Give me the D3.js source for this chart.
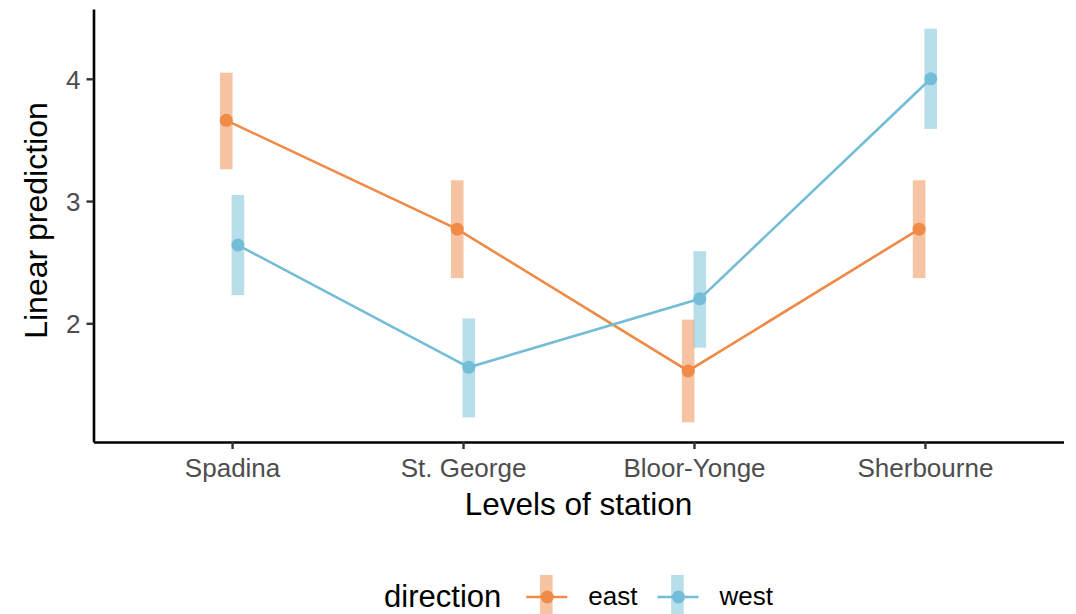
<!DOCTYPE html>
<html>
<head>
<meta charset="utf-8">
<script src="https://cdn.jsdelivr.net/npm/d3@7"></script>
<style>
  html, body { margin: 0; padding: 0; background: #ffffff; }
  svg { display: block; font-family: "Liberation Sans", Arial, Helvetica, sans-serif; }
</style>
</head>
<body>
<svg id="chart" width="1076" height="614"></svg>
<script>
// Estimated marginal means of the linear model, by station and direction
const stations = ["Spadina", "St. George", "Bloor-Yonge", "Sherbourne"];
const directions = ["east", "west"];
const eastFit = [3.66, 2.77, 1.61, 2.77];
const eastLow = [3.26, 2.37, 1.19, 2.37];
const eastHigh = [4.05, 3.17, 2.03, 3.17];
const westFit = [2.64, 1.64, 2.20, 4.00];
const westLow = [2.23, 1.23, 1.80, 3.59];
const westHigh = [3.05, 2.04, 2.59, 4.41];
const yTicks = [2, 3, 4];

const palette = { east: "#ef8a47", west: "#74bdd7" };
const series = [
  { key: "east", fit: eastFit, low: eastLow, high: eastHigh },
  { key: "west", fit: westFit, low: westLow, high: westHigh }
];

const svg = d3.select("#chart");
const plot = { left: 93.5, right: 1063.5, top: 9, bottom: 442 };

// Discrete x axis with ggplot-style 0.6 expansion on each side
const x = d3.scalePoint().domain(stations).range([plot.left, plot.right]).padding(0.6);
const dodge = d3.scalePoint().domain(directions).range([-5.8, 5.8]);

// Continuous y axis, 5% expansion around the interval extremes
const lo = d3.min(series, s => d3.min(s.low));
const hi = d3.max(series, s => d3.max(s.high));
const pad = (hi - lo) * 0.05;
const y = d3.scaleLinear().domain([lo - pad, hi + pad]).range([plot.bottom, plot.top]);

// Confidence interval bars
series.forEach(s => {
  svg.append("g").selectAll("rect")
    .data(stations)
    .join("rect")
    .attr("x", (d, i) => x(d) + dodge(s.key) - 6.3)
    .attr("width", 12.6)
    .attr("y", (d, i) => y(s.high[i]))
    .attr("height", (d, i) => y(s.low[i]) - y(s.high[i]))
    .attr("fill", palette[s.key])
    .attr("fill-opacity", 0.5);
});

// Lines and points
const line = d3.line();
series.forEach(s => {
  const pts = stations.map((d, i) => [x(d) + dodge(s.key), y(s.fit[i])]);
  svg.append("path")
    .attr("d", line(pts))
    .attr("fill", "none")
    .attr("stroke", palette[s.key])
    .attr("stroke-width", 2.6);
  svg.append("g").selectAll("circle")
    .data(pts)
    .join("circle")
    .attr("cx", d => d[0])
    .attr("cy", d => d[1])
    .attr("r", 6.5)
    .attr("fill", palette[s.key]);
});

// Axes
const xAxis = svg.append("g")
  .attr("transform", `translate(0,${plot.bottom})`)
  .call(d3.axisBottom(x).tickSize(7).tickPadding(8).tickSizeOuter(0));
const yAxis = svg.append("g")
  .attr("transform", `translate(${plot.left},0)`)
  .call(d3.axisLeft(y).tickValues(yTicks).tickFormat(d3.format("d"))
    .tickSize(7).tickPadding(6).tickSizeOuter(0));

[xAxis, yAxis].forEach(g => {
  g.select(".domain").attr("stroke", "#000").attr("stroke-width", 2.6);
  g.selectAll(".tick line").attr("stroke", "#333").attr("stroke-width", 2.4);
  g.selectAll(".tick text")
    .attr("fill", "#4d4d4d")
    .style("font-size", "26px")
    .style("font-family", "'Liberation Sans', Arial, sans-serif");
});
xAxis.selectAll(".tick text").attr("dy", "0.78em");
yAxis.selectAll(".tick text").attr("dy", "0.36em");

// Axis titles
svg.append("text")
  .attr("x", (plot.left + plot.right) / 2)
  .attr("y", 515)
  .attr("text-anchor", "middle")
  .style("font-size", "31.5px")
  .attr("fill", "#000")
  .text("Levels of station");

svg.append("text")
  .attr("transform", `translate(47,${(plot.top + plot.bottom) / 2 - 5}) rotate(-90)`)
  .attr("text-anchor", "middle")
  .style("font-size", "32px")
  .attr("fill", "#000")
  .text("Linear prediction");

// Legend, centred under the panel
const legend = svg.append("g");
const baseY = 597;
let cursor = 0;
const title = legend.append("text")
  .attr("x", cursor).attr("y", 607)
  .style("font-size", "31px").attr("fill", "#000")
  .text("direction");
cursor += title.node().getComputedTextLength() + 25;

series.forEach((s, k) => {
  const kx = cursor + 20;
  legend.append("rect")
    .attr("x", kx - 6.3).attr("width", 12.6)
    .attr("y", 575).attr("height", 44)
    .attr("fill", palette[s.key]).attr("fill-opacity", 0.5);
  legend.append("line")
    .attr("x1", cursor).attr("x2", cursor + 41)
    .attr("y1", baseY).attr("y2", baseY)
    .attr("stroke", palette[s.key]).attr("stroke-width", 2.6);
  legend.append("circle")
    .attr("cx", kx + 1).attr("cy", baseY).attr("r", 6.5)
    .attr("fill", palette[s.key]);
  cursor += 41 + 21;
  const label = legend.append("text")
    .attr("x", cursor).attr("y", 605)
    .style("font-size", "26px").attr("fill", "#000")
    .text(s.key);
  cursor += label.node().getComputedTextLength() + (k === 0 ? 20 : 0);
});
legend.attr("transform", `translate(${(plot.left + plot.right) / 2 - cursor / 2},0)`);
</script>
</body>
</html>
